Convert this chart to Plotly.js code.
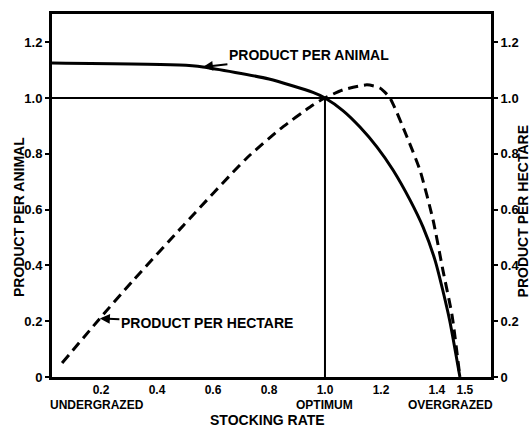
<!DOCTYPE html>
<html><head><meta charset="utf-8">
<script src="https://cdn.plot.ly/plotly-3.0.1.min.js"></script>
<style>html,body{margin:0;padding:0;background:#fff}#chart{width:532px;height:431px}</style>
</head><body><div id="chart"></div>
<script>
// Product per animal (solid)
const animalX = [0.025, 0.48, 0.564, 0.80, 0.957, 1.0, 1.064, 1.125, 1.186, 1.243, 1.304, 1.35, 1.393, 1.421, 1.446, 1.482];
const animalY = [1.125, 1.118, 1.111, 1.068, 1.02, 1.0, 0.955, 0.896, 0.824, 0.742, 0.634, 0.538, 0.419, 0.31, 0.20, 0.0];
// Product per hectare (dashed)
const hectareX = [0.061, 0.196, 0.314, 0.496, 0.721, 0.839, 0.957, 1.0, 1.064, 1.15, 1.196, 1.232, 1.293, 1.339, 1.386, 1.421, 1.454, 1.482];
const hectareY = [0.05, 0.21, 0.345, 0.545, 0.785, 0.888, 0.975, 1.0, 1.029, 1.047, 1.036, 1.0, 0.86, 0.742, 0.563, 0.384, 0.22, 0.0];
// Ticks
const xTickVals = [0.2, 0.4, 0.6, 0.8, 1.0, 1.2, 1.4, 1.5];
const xTickText = ["0.2", "0.4", "0.6", "0.8", "1.0", "1.2", "1.4", "1.5"];
const yTickVals = [0, 0.2, 0.4, 0.6, 0.8, 1.0, 1.2];
const yTickText = ["0", "0.2", "0.4", "0.6", "0.8", "1.0", "1.2"];
// Labels
const seriesNames = ["PRODUCT PER ANIMAL", "PRODUCT PER HECTARE"];
const xTitle = "STOCKING RATE";
const zoneLabels = ["UNDERGRAZED", "OPTIMUM", "OVERGRAZED"];
const zoneX = [0.186, 1.0, 1.45];
const optimum = 1.0;

const FF = "Liberation Sans, Arial, sans-serif";
const bold = (s, c) => ({family: FF, size: s, color: c || "#000", weight: 700});

const traces = [
  {x: animalX, y: animalY, type: "scatter", mode: "lines", name: seriesNames[0],
   line: {color: "#000", width: 3, shape: "spline", smoothing: 0.6}, yaxis: "y"},
  {x: hectareX, y: hectareY, type: "scatter", mode: "lines", name: seriesNames[1],
   line: {color: "#000", width: 3, dash: "10px,6px", shape: "spline", smoothing: 0.6}, yaxis: "y2"}
];

const yRange = [0, 1.301];
const C = {xanchor: "center", yanchor: "middle", showarrow: false, borderpad: 0};
const layout = {
  width: 532, height: 431,
  margin: {l: 52, r: 41, t: 14, b: 54, pad: 0},
  paper_bgcolor: "#fff", plot_bgcolor: "#fff",
  showlegend: false,
  xaxis: {range: [0.025, 1.593], showgrid: false, zeroline: false,
    showline: true, linecolor: "#000", linewidth: 3, mirror: true,
    ticks: "", tickvals: xTickVals, ticktext: xTickText, tickfont: bold(12)},
  yaxis: {range: yRange, showgrid: false, zeroline: false,
    showline: true, linecolor: "#000", linewidth: 3,
    ticks: "outside", ticklen: 4, tickwidth: 2, tickcolor: "#000",
    tickvals: yTickVals, ticktext: yTickText, tickfont: bold(13)},
  yaxis2: {range: yRange, overlaying: "y", side: "right", showgrid: false, zeroline: false,
    showline: true, linecolor: "#000", linewidth: 3,
    ticks: "outside", ticklen: 4, tickwidth: 2, tickcolor: "#000",
    tickvals: yTickVals, ticktext: yTickText, tickfont: bold(13)},
  shapes: [
    {type: "line", xref: "paper", yref: "y", x0: 0, x1: 1, y0: optimum, y1: optimum,
     line: {color: "#000", width: 2}},
    {type: "line", xref: "x", yref: "y", x0: optimum, x1: optimum, y0: 0, y1: optimum,
     line: {color: "#000", width: 2}}
  ],
  annotations: [
    {x: 0.564, y: 1.111, xref: "x", yref: "y", text: seriesNames[0], font: bold(14),
     xanchor: "center", yanchor: "middle",
     showarrow: true, arrowhead: 2, arrowsize: 1, arrowwidth: 2, arrowcolor: "#000",
     ax: 106, ay: -12, standoff: 0},
    {x: 0.196, y: 0.21, xref: "x", yref: "y", text: seriesNames[1], font: bold(14),
     xanchor: "center", yanchor: "middle",
     showarrow: true, arrowhead: 2, arrowsize: 1, arrowwidth: 2, arrowcolor: "#000",
     ax: 107, ay: 5, standoff: 0},
    Object.assign({x: -0.075, y: 0.441, xref: "paper", yref: "paper", text: seriesNames[0], textangle: -90,
     font: bold(14)}, C),
    Object.assign({x: 1.072, y: 0.455, xref: "paper", yref: "paper", text: seriesNames[1], textangle: -90,
     font: bold(14)}, C),
    Object.assign({x: 0.492, y: -0.118, xref: "paper", yref: "paper", text: xTitle, font: bold(14)}, C),
    Object.assign({x: zoneX[0], y: -0.076, xref: "x", yref: "paper", text: zoneLabels[0], font: bold(12)}, C),
    Object.assign({x: zoneX[1], y: -0.078, xref: "x", yref: "paper", text: zoneLabels[1], font: bold(12)}, C),
    Object.assign({x: zoneX[2], y: -0.078, xref: "x", yref: "paper", text: zoneLabels[2], font: bold(12)}, C)
  ]
};
Plotly.newPlot("chart", traces, layout, {staticPlot: true, displayModeBar: false});
</script></body></html>
